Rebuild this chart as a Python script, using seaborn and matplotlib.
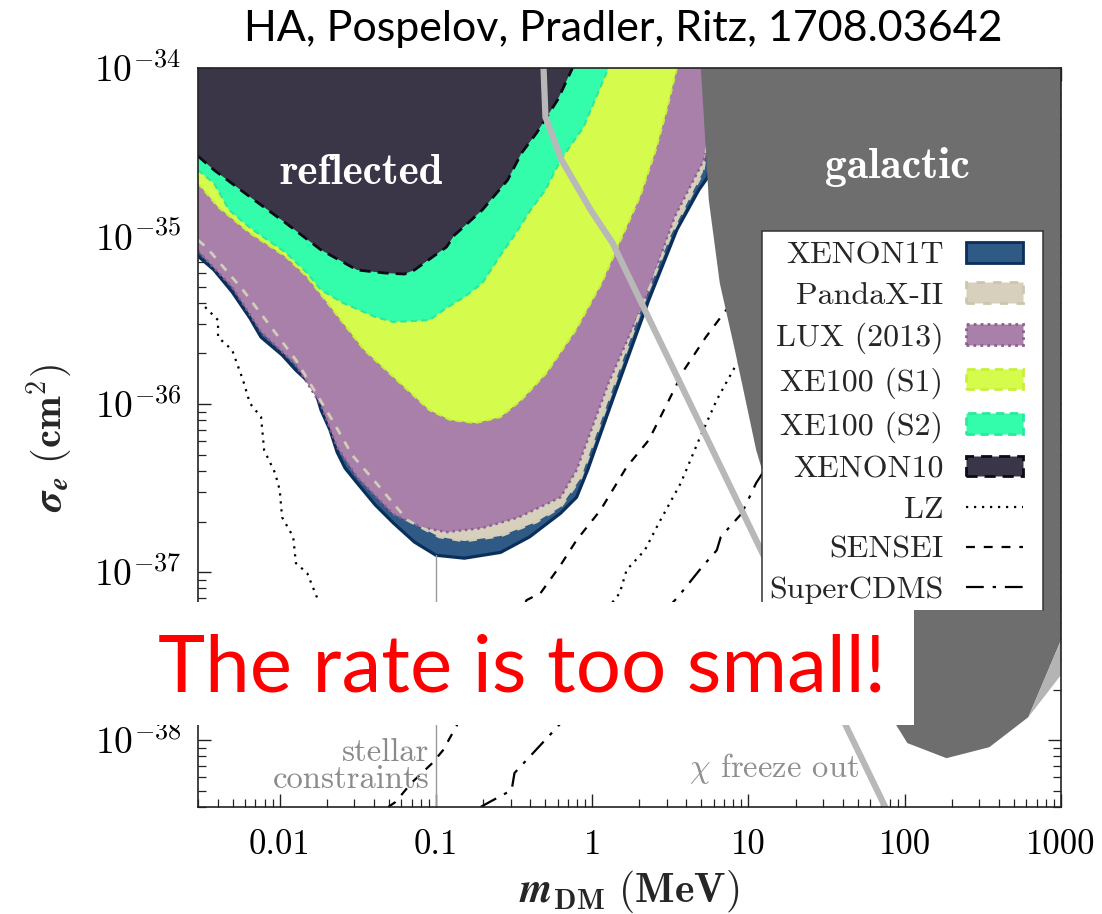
import matplotlib
matplotlib.use("Agg")
import matplotlib.pyplot as plt
import seaborn as sns
import pandas as pd
from matplotlib.patches import Rectangle, Patch
from matplotlib.lines import Line2D
from matplotlib.font_manager import FontProperties

# ---------------- data (m_DM in MeV, sigma_e in cm^2) ----------------
title_text = "HA, Pospelov, Pradler, Ritz, 1708.03642"
banner_text = "The rate is too small!"

xtick_vals = [0.01, 0.1, 1, 10, 100, 1000]
xtick_labels = ["0.01", "0.1", "1", "10", "100", "1000"]
ytick_vals = [1e-34, 1e-35, 1e-36, 1e-37, 1e-38]
ytick_labels = [r"$10^{-34}$", r"$10^{-35}$", r"$10^{-36}$", r"$10^{-37}$", r"$10^{-38}$"]

xenon10_m = [0.0030, 0.0038, 0.00645, 0.011, 0.0184, 0.0313, 0.0474, 0.0628, 0.0728, 0.1167,
             0.131, 0.198, 0.287, 0.353, 0.440, 0.488, 0.600, 0.748]
xenon10_s = [2.99e-35, 2.47e-35, 1.71e-35, 1.19e-35, 8.26e-36, 6.28e-36, 6.02e-36, 5.94e-36, 6.28e-36, 8.6e-36,
             1.01e-35, 1.43e-35, 2.15e-35, 3.12e-35, 4.1e-35, 4.77e-35, 6.45e-35, 1e-34]

xe100s2_m = [0.0030, 0.0038, 0.00474, 0.00645, 0.011, 0.015, 0.0184, 0.0255, 0.0409, 0.0534, 0.0908,
             0.1167, 0.152, 0.198, 0.259, 0.318, 0.403, 0.502, 0.627, 0.881, 1.27]
xe100s2_s = [2.47e-35, 2.06e-35, 1.43e-35, 1.12e-35, 7.93e-36, 6.02e-36, 4.77e-36, 3.99e-36, 3.30e-36, 3.08e-36, 3.16e-36,
             3.73e-36, 4.34e-36, 5.25e-36, 7.71e-36, 1.01e-35, 1.43e-35, 1.88e-35, 2.83e-35, 4.46e-35, 1e-34]

xe100s1_m = [0.0030, 0.00403, 0.00645, 0.011, 0.015, 0.0255, 0.0347, 0.0534, 0.0908, 0.124, 0.179,
             0.259, 0.353, 0.510, 0.784, 1.15, 1.52, 2.04, 2.55, 3.0, 3.48]
xe100s1_s = [2.06e-35, 1.49e-35, 1.04e-35, 7.5e-36, 5.70e-36, 3.03e-36, 2.10e-36, 1.45e-36, 9.2e-37, 8.03e-37, 7.71e-37,
             8.37e-37, 1.06e-36, 1.53e-36, 2.75e-36, 5.25e-36, 9.46e-36, 1.75e-35, 3.25e-35, 5.62e-35, 1e-34]

lux_m = [0.0030, 0.00496, 0.0076, 0.0127, 0.0184, 0.0233, 0.0313, 0.0534, 0.0805, 0.1167, 0.198,
         0.338, 0.627, 0.794, 1.27, 2.17, 3.37, 4.34, 5.18, 5.91, 6.46]
lux_s = [8.15e-36, 4.97e-36, 2.69e-36, 1.71e-36, 9.86e-37, 5.55e-37, 3.67e-37, 2.21e-37, 1.85e-37, 1.73e-37, 1.83e-37,
         2.12e-37, 2.79e-37, 4.05e-37, 1.33e-36, 4.16e-36, 1.30e-35, 2.06e-35, 2.83e-35, 5.62e-35, 1e-34]

pandax_m = [0.0030, 0.00343, 0.00582, 0.00881, 0.0127, 0.01663, 0.0217, 0.0291, 0.0409, 0.0656, 0.105, 0.152,
            0.259, 0.440, 0.627, 0.846, 1.24, 2.10, 3.18, 4.40, 5.11, 5.74, 6.27]
pandax_s = [9.46e-36, 8.49e-36, 4.77e-36, 2.87e-36, 1.83e-36, 1.21e-36, 8.03e-37, 4.97e-37, 3.44e-37, 2.04e-37, 1.62e-37, 1.53e-37,
            1.64e-37, 1.99e-37, 2.44e-37, 3.63e-37, 9.86e-37, 3.88e-36, 1.01e-35, 1.83e-35, 2.40e-35, 4.9e-35, 1e-34]

xenon1t_m = [0.0030, 0.0038, 0.00496, 0.00645, 0.0076, 0.01036, 0.0127, 0.01663, 0.0184, 0.0210, 0.0233, 0.0262,
             0.0313, 0.0409, 0.0534, 0.0728, 0.1, 0.152, 0.259, 0.397, 0.627, 0.794, 0.935, 1.35, 2.30, 3.48, 4.81,
             5.49, 6.18, 6.65]
xenon1t_s = [7.6e-36, 6.28e-36, 4.65e-36, 3.25e-36, 2.50e-36, 1.96e-36, 1.59e-36, 1.26e-36, 9.2e-37, 7.0e-37, 5.18e-37, 4.16e-37,
             3.39e-37, 2.51e-37, 1.96e-37, 1.51e-37, 1.26e-37, 1.21e-37, 1.31e-37, 1.62e-37, 2.24e-37, 2.79e-37, 4.05e-37,
             1.06e-36, 4.16e-36, 1.09e-35, 1.88e-35, 2.24e-35, 4.9e-35, 1e-34]

lz_m = [0.00333, 0.00403, 0.00403, 0.00496, 0.00582, 0.00645, 0.0076, 0.00795, 0.00935, 0.01, 0.01036, 0.0122,
        0.0127, 0.015, 0.0176, 0.0226, 0.0379, 0.124, 0.403, 0.846, 1.35, 1.50, 1.66, 2.17, 2.67, 3.69, 4.81,
        6.27, 8.18, 11.1]
lz_s = [3.78e-36, 3.16e-36, 2.50e-36, 2.10e-36, 1.39e-36, 1.01e-36, 8.37e-37, 5.32e-37, 3.88e-37, 3.08e-37, 2.12e-37, 1.62e-37,
        1.13e-37, 9.86e-38, 6.81e-38, 3.43e-38, 1.73e-38, 1.35e-38, 1.61e-38, 2.99e-38, 6.62e-38, 7.5e-38, 1.03e-37,
        1.35e-37, 1.96e-37, 3.39e-37, 6.1e-37, 1.06e-36, 1.66e-36, 2.24e-36]

sensei_m = [0.0495, 0.0550, 0.0695, 0.0948, 0.111, 0.131, 0.223, 0.380, 0.467, 0.627, 0.794, 1.13, 1.66,
            2.30, 2.67, 3.86, 5.33, 6.95, 9.12]
sensei_s = [4e-39, 4.28e-39, 5.55e-39, 7.3e-39, 8.71e-39, 1.15e-38, 2.79e-38, 6.81e-38, 7.5e-38, 1.10e-37, 1.55e-37,
            2.34e-37, 4.22e-37, 6.1e-37, 8.03e-37, 1.59e-36, 2.50e-36, 3.48e-36, 4.77e-36]

cdms_m = [0.193, 0.220, 0.305, 0.318, 0.574, 1.13, 3.53, 5.03, 6.27, 6.65, 9.07, 11.2, 14.6]
cdms_s = [4e-39, 4.28e-39, 5.04e-39, 6.37e-39, 1.15e-38, 2.28e-38, 7.1e-38, 1.07e-37, 1.35e-37, 1.62e-37,
          2.24e-37, 3.39e-37, 4.97e-37]

freeze_m = [0.488, 0.502, 0.637, 0.977, 1.35, 2.30, 75.0]
freeze_s = [1e-34, 5.1e-35, 2.83e-35, 1.43e-35, 9.08e-36, 3.25e-36, 4e-39]

galactic_m = [4.95, 5.18, 5.57, 6.55, 8.18, 10.1, 11.2, 12.4, 21.6, 52.6, 81.8, 88.1, 104, 185, 348, 618, 1000, 1000]
galactic_s = [1e-34, 5.1e-35, 1.64e-35, 5.25e-36, 2.10e-36, 8.37e-37, 5.32e-37, 3.88e-37, 1.18e-37, 3.43e-38,
              1.41e-38, 1.23e-38, 9.6e-39, 7.81e-39, 9.08e-39, 1.37e-38, 3.94e-38, 1e-34]
wedge_m = [618, 1000, 1000]
wedge_s = [1.37e-38, 3.94e-38, 2.44e-38]

stellar_m = [0.1, 0.1]
stellar_s = [4e-39, 1.26e-37]

x_lo, x_hi = 0.003, 1000
y_lo, y_hi = 4e-39, 1e-34

# ---------------- style ----------------
sns.set_theme(style="ticks")
plt.rcParams["font.family"] = ["DejaVu Sans"]
plt.rcParams["mathtext.fontset"] = "cm"
plt.rcParams["axes.linewidth"] = 1.2
plt.rcParams["axes.edgecolor"] = "#222222"

W, H, DPI = 1102, 914, 100
fig = plt.figure(figsize=(W / DPI, H / DPI), dpi=DPI)
fig.patch.set_facecolor("white")


def fx(px):
    return px / W


def fy(py):
    return 1 - py / H


ax = fig.add_axes([fx(198), fy(807), (1061 - 198) / W, (807 - 68) / H])
ax.set_facecolor("white")
ax.set_xscale("log")
ax.set_yscale("log")
ax.set_xlim(x_lo, x_hi)
ax.set_ylim(y_lo, y_hi)


def region(m, s, face, edge, ls, lw, z):
    ax.fill_between(m, s, y_hi, facecolor=face, edgecolor="none", linewidth=0, zorder=z)
    ax.plot(m, s, color=edge, ls=ls, lw=lw, zorder=z + 0.05)


region(xenon1t_m, xenon1t_s, "#2f5a85", "#0b2f5b", "-", 2.3, 1.0)
ax.fill_between(pandax_m, pandax_s, y_hi, facecolor="#d6d0bc", edgecolor="none", linewidth=0, zorder=1.2)
region(lux_m, lux_s, "#a880aa", "#8d5e93", (0, (1, 1.5)), 1.8, 1.4)
ax.plot(pandax_m, pandax_s, color="#d3ccb6", ls=(0, (3, 3)), lw=2.0, zorder=1.5)
region(xe100s1_m, xe100s1_s, "#d5fb4c", "#c8f03a", (0, (3, 2)), 1.5, 1.6)
region(xe100s2_m, xe100s2_s, "#33fdab", "#29ea9c", (0, (3, 2)), 1.5, 1.8)
region(xenon10_m, xenon10_s, "#3b3647", "#0c0c18", (0, (4, 2.5)), 2.0, 2.0)

# projection lines (seaborn)
lines_df = pd.concat([
    pd.DataFrame({"m": lz_m, "s": lz_s, "exp": "LZ"}),
    pd.DataFrame({"m": sensei_m, "s": sensei_s, "exp": "SENSEI"}),
    pd.DataFrame({"m": cdms_m, "s": cdms_s, "exp": "SuperCDMS"}),
])
styles = {"LZ": (0, (1, 2.6)), "SENSEI": (0, (4, 4)), "SuperCDMS": (0, (8, 4, 1.5, 4))}
for name, sub in lines_df.groupby("exp", sort=False):
    sns.lineplot(data=sub, x="m", y="s", ax=ax, sort=False, estimator=None, color="black",
                 linewidth=1.6, linestyle=styles[name], zorder=3)

sns.lineplot(x=stellar_m, y=stellar_s, ax=ax, sort=False, estimator=None, color="#9a9a9a", linewidth=1.0, zorder=2.5)

ax.fill(galactic_m, galactic_s, facecolor="#6e6e6e", edgecolor="none", zorder=4)
ax.fill(wedge_m, wedge_s, facecolor="#b4b4b4", edgecolor="none", zorder=4)

sns.lineplot(x=freeze_m, y=freeze_s, ax=ax, sort=False, estimator=None, color="#b8b8b8", linewidth=4.5, zorder=5)

ax.text(0.0333, 2.37e-35, "reflected", color="white", fontfamily="cmb10", fontsize=31,
        ha="center", va="center", zorder=6)
ax.text(89.3, 2.57e-35, "galactic", color="white", fontfamily="cmb10", fontsize=31.5,
        ha="center", va="center", zorder=6)
ax.text(0.0908, 7.0e-39, "stellar\nconstraints", color="#8a8a8a", fontfamily="cmr10", fontsize=23.5,
        ha="right", va="center", multialignment="right", linespacing=0.9, zorder=6)
ax.text(14.6, 6.8e-39, r"$\chi$ freeze out", color="#8f8f8f", fontfamily="cmr10", fontsize=23.5,
        ha="center", va="center", zorder=6)

# axes / ticks
ax.set_xticks(xtick_vals, labels=xtick_labels)
ax.set_yticks(ytick_vals, labels=ytick_labels)
for lab in ax.get_xticklabels():
    lab.set_fontfamily("cmr10")
    lab.set_fontsize(25)
for lab in ax.get_yticklabels():
    lab.set_fontsize(27)
ax.tick_params(which="both", direction="in", top=True, right=True, colors="#222222", labelcolor="black")
ax.tick_params(which="major", length=9.5, width=1.0)
ax.tick_params(axis="y", which="major", pad=12)
ax.tick_params(axis="x", which="major", pad=16)
ax.tick_params(which="minor", length=5.5, width=0.9)
for sp in ax.spines.values():
    sp.set_linewidth(1.2)
    sp.set_zorder(7)
ax.grid(False)

xl = ax.set_xlabel(r"$\mathbfit{m}_{\mathbf{DM}}\ \mathbf{(MeV)}$", fontsize=30, labelpad=5)
yl = ax.set_ylabel(r"$\mathbfit{\sigma}_{\mathbfit{e}}\ \mathbf{(cm^2)}$", fontsize=29, labelpad=14)
try:
    fig.canvas.draw()
except Exception:
    xl.set_text(r"$\mathbf{m_{DM}\ (MeV)}$")
    yl.set_text(r"$\mathbf{\sigma_e\ (cm^2)}$")

# legend background + frame (bottom edge hidden by the banner)
fig.patches.append(Rectangle((fx(762), fy(610)), (1043 - 762) / W, (610 - 231) / H,
                             transform=fig.transFigure, facecolor="white", edgecolor="none", zorder=1.5))
for xs, ys in [([762, 762], [231, 610]), ([762, 1043], [231, 231]), ([1043, 1043], [231, 610])]:
    fig.lines.append(Line2D([fx(v) for v in xs], [fy(v) for v in ys], transform=fig.transFigure,
                            color="#333333", lw=1.1, zorder=1.6))

# banner box
fig.patches.append(Rectangle((fx(150), fy(725)), (914 - 150) / W, (725 - 602) / H,
                             transform=fig.transFigure, facecolor="white", edgecolor="none", zorder=2))
fig.text(fx(522), fy(692), banner_text, color="#ff0000", fontfamily="Lato", fontsize=57.5,
         ha="center", va="baseline", zorder=3)

handles = [
    Patch(facecolor="#2f5a85", edgecolor="#0b2f5b", linewidth=2.0, linestyle="-"),
    Patch(facecolor="#d6d0bc", edgecolor="#cdc6ae", linewidth=2.0, linestyle=(0, (3, 3))),
    Patch(facecolor="#a880aa", edgecolor="#8d5e93", linewidth=2.0, linestyle=(0, (1, 1.5))),
    Patch(facecolor="#d5fb4c", edgecolor="#c8f03a", linewidth=2.0, linestyle=(0, (3, 2))),
    Patch(facecolor="#33fdab", edgecolor="#29ea9c", linewidth=2.0, linestyle=(0, (3, 2))),
    Patch(facecolor="#3b3647", edgecolor="#0c0c18", linewidth=2.0, linestyle=(0, (4, 2.5))),
    Line2D([], [], color="black", lw=1.6, ls=(0, (1, 2.6))),
    Line2D([], [], color="black", lw=1.6, ls=(0, (4, 4))),
    Line2D([], [], color="black", lw=1.6, ls=(0, (8, 4, 1.5, 4))),
]
labels = ["XENON1T", "PandaX-II", "LUX (2013)", "XE100 (S1)", "XE100 (S2)", "XENON10", "LZ", "SENSEI", "SuperCDMS"]
leg = fig.legend(handles, labels, loc="upper right", bbox_to_anchor=(fx(1023), fy(242)),
                 frameon=False, prop=FontProperties(family="cmr10", size=23), markerfirst=False,
                 handlelength=1.8, handleheight=0.62, handletextpad=0.69, labelspacing=0.40,
                 borderpad=0, borderaxespad=0)
leg.set_zorder(5)

fig.text(fx(623), fy(41), title_text, fontfamily="Lato", fontsize=31, ha="center", va="baseline", color="black")

fig.savefig("out.png", dpi=DPI, facecolor="white")
